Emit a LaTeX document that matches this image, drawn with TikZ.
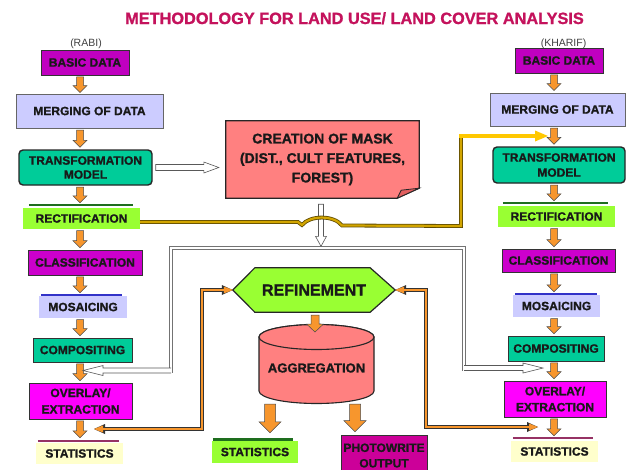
\documentclass[tikz,border=0pt]{standalone}
\usepackage{fontspec}
\setmainfont{Liberation Sans}[BoldFeatures={FakeBold=1.2}]
\usetikzlibrary{arrows.meta,calc,backgrounds}
\definecolor{titlec}{RGB}{196,18,92}
\definecolor{arrowor}{RGB}{247,150,45}
\definecolor{basicp}{RGB}{192,0,192}
\definecolor{classp}{RGB}{204,0,204}
\definecolor{lav}{RGB}{204,204,255}
\definecolor{tealc}{RGB}{0,204,153}
\definecolor{lgreen}{RGB}{153,255,51}
\definecolor{barg}{RGB}{30,110,30}
\definecolor{barb}{RGB}{50,50,200}
\definecolor{barm}{RGB}{150,50,100}
\definecolor{lyel}{RGB}{255,255,204}
\definecolor{magc}{RGB}{255,0,255}
\definecolor{salm}{RGB}{255,128,128}
\definecolor{salmd}{RGB}{225,95,95}
\definecolor{photop}{RGB}{204,0,153}
\definecolor{goldc}{RGB}{210,165,0}
\definecolor{golde}{RGB}{95,75,0}
\definecolor{yelc}{RGB}{255,200,0}
\tikzset{
  every node/.style={inner sep=0pt, align=center, text=black!90, font=\fontsize{12}{14}\selectfont\bfseries},
  sz/.style 2 args={minimum width=#1pt, minimum height=#2pt},
  bx/.style={draw=black!80, line width=0.7pt},
  tbx/.style={draw=black!85, line width=1.4pt, rounded corners=4pt},
  barst/.style={line width=2.5pt},
  vblk/.style n args={3}{to path={let \p1=(\tikztostart), \p2=(\tikztotarget) in
      (\x1-#1,\y1) -- (\x1+#1,\y1) -- (\x1+#1,\y2+#3) -- (\x1+#2,\y2+#3) -- (\x1,\y2)
      -- (\x1-#2,\y2+#3) -- (\x1-#1,\y2+#3) -- cycle}},
  hblk/.style n args={3}{to path={let \p1=(\tikztostart), \p2=(\tikztotarget), \n1={ifthenelse(\x2>\x1,1,-1)} in
      (\x1,\y1+#1) -- (\x2-\n1*#3,\y1+#1) -- (\x2-\n1*#3,\y1+#2) -- (\x2,\y1)
      -- (\x2-\n1*#3,\y1-#2) -- (\x2-\n1*#3,\y1-#1) -- (\x1,\y1-#1) -- cycle}},
  hopen/.style n args={3}{to path={let \p1=(\tikztostart), \p2=(\tikztotarget), \n1={ifthenelse(\x2>\x1,1,-1)} in
      (\x1,\y1+#1) -- (\x2-\n1*#3,\y1+#1) -- (\x2-\n1*#3,\y1+#2) -- (\x2,\y1)
      -- (\x2-\n1*#3,\y1-#2) -- (\x2-\n1*#3,\y1-#1) -- (\x1,\y1-#1)}},
  ob/.style={vblk={3.5pt}{7pt}{7pt}, fill=arrowor, draw=black!70, line width=0.5pt},
  omid/.style={vblk={4pt}{8.5pt}{8pt}, fill=arrowor, draw=black!70, line width=0.5pt},
  obig/.style={vblk={5.5pt}{11pt}{11pt}, fill=arrowor, draw=black!70, line width=0.5pt},
  wdown/.style={vblk={2.5pt}{5.5pt}{10pt}, fill=white, draw=black!65, line width=0.6pt},
  whr/.style={hblk={3pt}{5.5pt}{15pt}, fill=white, draw=black!65, line width=0.6pt},
  wopen/.style={hopen={2.5pt}{5pt}{20pt}, fill=white, draw=black!65, line width=0.6pt},
  dbl/.style={draw=black!55, double=white, double distance=2pt, line width=0.8pt},
  okline/.style={draw=black!80, line width=4pt},
  oline/.style={draw=arrowor, line width=2.4pt},
  goldl/.style={draw=goldc, line width=2.2pt, preaction={draw=golde, line width=3.8pt}},
}
\begin{document}
\begin{tikzpicture}[x=1pt,y=-1pt]
\useasboundingbox (0,0) rectangle (626,469);
\begin{scope}[on background layer]
  \fill[white] (-5,-5) rectangle (631,474);
\end{scope}

% title and season labels
\node[font=\fontsize{16.3}{19}\selectfont\bfseries, text=titlec, anchor=base] (title) at (354.5,24)
  {METHODOLOGY FOR LAND USE/ LAND COVER ANALYSIS};
\node[font=\fontsize{10.5}{12}\selectfont, text=black!75] (rabi) at (86,43.5) {(RABI)};
\node[font=\fontsize{10.5}{12}\selectfont, text=black!75] (kharif) at (563.5,43.5) {(KHARIF)};

% left column
\node[bx, fill=basicp, sz={88}{25}] (bdL) at (85,62.5) {BASIC DATA};
\node[bx, draw=black!60, line width=1pt, fill=lav, sz={147}{34}] (mgL) at (89.5,111) {MERGING OF DATA};
\node[tbx, fill=tealc, sz={133}{35}] (tmL) at (85.5,167.5) {TRANSFORMATION\\MODEL};
\node[fill=lgreen, sz={117}{21}] (rcL) at (81.5,218.5) {RECTIFICATION};
\node[bx, fill=classp, sz={114}{25}] (clL) at (85,262.5) {CLASSIFICATION};
\node[fill=lav, sz={88}{22}] (moL) at (83,307) {MOSAICING};
\node[bx, fill=tealc, sz={99}{24}] (coL) at (82.5,350) {COMPOSITING};
\node[bx, fill=magc, sz={103}{36}, font=\fontsize{12}{16.5}\selectfont\bfseries] (ovL) at (80.5,401) {OVERLAY/\\EXTRACTION};
\node[fill=lyel, sz={87}{21}] (stL) at (79.5,453.5) {STATISTICS};
\draw[barst, barg] ($(rcL.north west)+(6,-3)$) -- ($(rcL.north east)+(-7,-3)$);
\draw[barst, barb] ($(moL.north west)+(2,-1)$) -- ($(moL.north east)+(-5,-1)$);
\draw[barst, barm] ($(stL.north west)+(2,-2)$) -- ($(stL.north east)+(-4,-2)$);

% right column
\node[bx, fill=basicp, sz={88}{25}] (bdR) at (559,60.5) {BASIC DATA};
\node[bx, draw=black!60, line width=1pt, fill=lav, sz={135}{33}] (mgR) at (557.5,109.5) {MERGING OF DATA};
\node[tbx, fill=tealc, sz={132}{36}, font=\fontsize{12}{15}\selectfont\bfseries] (tmR) at (559,165) {TRANSFORMATION\\MODEL};
\node[fill=lgreen, sz={117}{21}] (rcR) at (556.5,216.5) {RECTIFICATION};
\node[bx, fill=classp, sz={113}{23}] (clR) at (558.5,260.5) {CLASSIFICATION};
\node[fill=lav, sz={87}{22}] (moR) at (556.5,306) {MOSAICING};
\node[bx, fill=tealc, sz={96}{25}] (coR) at (556,348.5) {COMPOSITING};
\node[bx, fill=magc, sz={102}{36}, font=\fontsize{12}{16}\selectfont\bfseries] (ovR) at (555,399) {OVERLAY/\\EXTRACTION};
\node[fill=lyel, sz={87}{21}] (stR) at (554.5,451.5) {STATISTICS};
\draw[barst, barg] ($(rcR.north west)+(5,-3)$) -- ($(rcR.north east)+(-7,-3)$);
\draw[barst, barb] ($(moR.north west)+(2,-1)$) -- ($(moR.north east)+(-3,-1)$);
\draw[barst, barm] ($(stR.north west)+(2,-3)$) -- ($(stR.north east)+(-5,-3)$);

% centre
\node[sz={193}{77}, font=\fontsize{14}{19.5}\selectfont\bfseries] (mask) at (322.5,159.5)
  {CREATION OF MASK\\(DIST., CULT FEATURES,\\FOREST)};
\node[sz={162}{44}, font=\fontsize{16}{19}\selectfont\bfseries] (hex) at (314,290) {REFINEMENT};
\coordinate (cylT) at (316.5,337);
\coordinate (cylB) at (316.5,391);
\node[font=\fontsize{13}{15}\selectfont\bfseries] (agg) at (316.5,368) {AGGREGATION};
\node[fill=lgreen, sz={86}{22}] (stC) at (255,452) {STATISTICS};
\draw[barst, barg] ($(stC.north west)+(1,-1.5)$) -- ($(stC.north east)+(-5,-1.5)$);
\node[bx, fill=photop, sz={86}{50}] (pwC) at (384,460) {};
\node[font=\fontsize{12}{15.5}\selectfont\bfseries] (pwT) at (384,455.5) {PHOTOWRITE\\OUTPUT};

\begin{scope}[on background layer]
  \draw[fill=salm, draw=black!85, line width=1.2pt]
    (mask.north west) -- (mask.north east) -- ($(mask.south east)+(0,-10)$)
    -- ($(mask.south east)+(-22,0)$) -- (mask.south west) -- cycle;
  \draw[fill=salmd, draw=black!85, line width=0.8pt]
    ($(mask.south east)+(-22,0)$) -- ($(mask.south east)+(-18,-8)$) -- ($(mask.south east)+(0,-10)$) -- cycle;
  \draw[fill=lgreen, draw=black!85, line width=1.2pt]
    (hex.west) -- ($(hex.north west)+(22,0)$) -- ($(hex.north east)+(-25,0)$) -- (hex.east)
    -- ($(hex.south east)+(-25,0)$) -- ($(hex.south west)+(22,0)$) -- cycle;
  \draw[fill=salm, draw=black!85, line width=1.1pt]
    ($(cylT)+(-57.5,0)$) -- ($(cylB)+(-57.5,0)$)
    arc[start angle=180, end angle=360, x radius=57.5pt, y radius=12.5pt]
    -- ($(cylT)+(57.5,0)$)
    arc[start angle=0, end angle=180, x radius=57.5pt, y radius=12.5pt] -- cycle;
  \draw[fill=salm, draw=black!85, line width=1.1pt] (cylT) ellipse [x radius=57.5pt, y radius=12.5pt];
\end{scope}

% orange block arrows in the columns
\coordinate (Lx) at (80,0);
\coordinate (Rx) at (554,0);
\foreach \a/\b/\e in {bdL/mgL/1, mgL/tmL/2, tmL/rcL/5, rcL/clL/2, clL/moL/3, moL/coL/2, coL/ovL/2, ovL/stL/5}
  \draw[ob] ($(\a.south -| Lx)+(0,1.5)$) to ($(\b.north -| Lx)+(0,-\e)$);
\foreach \a/\b/\e in {bdR/mgR/2, mgR/tmR/2, tmR/rcR/5, rcR/clR/2, clR/moR/3, moR/coR/2, coR/ovR/2, ovR/stR/5}
  \draw[ob] ($(\a.south -| Rx)+(0,1.5)$) to ($(\b.north -| Rx)+(0,-\e)$);

% centre orange arrows
\draw[omid] ($(hex.south)+(1,3)$) to ($(cylT)+(0,-5)$);
\draw[obig] ($(cylB)+(-46.5,13)$) to ($(stC.north)+(0,-8)$);
\draw[obig] ($(cylB)+(38.5,13)$) to ($(pwC.north)+(0,-3)$);

% white frame and hollow arrows
\coordinate (fTL) at (171,248);
\coordinate (fTR) at (464,248);
\coordinate (fBL) at (171,373);
\coordinate (fBR) at (464,370.5);
\coordinate (fLs) at (171,370.5);
\coordinate (wL) at (83,370.5);
\coordinate (fRs) at (464,368);
\coordinate (wR) at (543,368);
\draw[dbl] (fBL) -- (fTL) -- (fTR) -- (fBR);
\draw[wopen] (fLs) to (wL);
\draw[wopen] (fRs) to (wR);
\draw[wdown] ($(mask.south)+(-1.5,6)$) to ($(mask.south |- fTL)+(0,-1.7)$);
\draw[whr] ($(tmL.east)+(3,0)$) to ($(mask.west |- tmL.east)+(-7,0)$);

% orange connectors to refinement
\coordinate (oL) at (94,429);
\coordinate (oLc) at (202,429);
\coordinate (oRc) at (426,427);
\coordinate (oR) at (538,427);
\draw[okline, {Triangle[width=10pt,length=11pt,line width=0pt]}-{Triangle[width=10pt,length=11pt,line width=0pt]}]
  (oL) -- (oLc) |- (hex.west);
\draw[oline, {Triangle[width=7pt,length=9pt,line width=0pt]}-{Triangle[width=7pt,length=9pt,line width=0pt]}]
  (oL) -- (oLc) |- (hex.west);
\draw[okline, {Triangle[width=10pt,length=11pt,line width=0pt]}-{Triangle[width=10pt,length=11pt,line width=0pt]}]
  (hex.east) -| (oRc) -- (oR);
\draw[oline, {Triangle[width=7pt,length=9pt,line width=0pt]}-{Triangle[width=7pt,length=9pt,line width=0pt]}]
  (hex.east) -| (oRc) -- (oR);

% gold line from rectification to the Kharif chain
\coordinate (gs) at ([yshift=-3.5pt]rcL.east);
\coordinate (g1) at (298,222);
\coordinate (g2) at (302,225);
\coordinate (g3) at (342,225.5);
\coordinate (g4) at (461,226);
\coordinate (g5) at (461,136);
\coordinate (gE) at (548,136);
\draw[goldl] (gs) -- (g1) -- (g2) .. controls (310,215) and (334,215) .. (g3) -- (g4) -- (g5);
\draw[draw=yelc, line width=3.5pt, -{Triangle[width=11pt,length=13pt,line width=0pt]}] ($(g5)+(-1.9,0)$) -- (gE);
\end{tikzpicture}
\end{document}
